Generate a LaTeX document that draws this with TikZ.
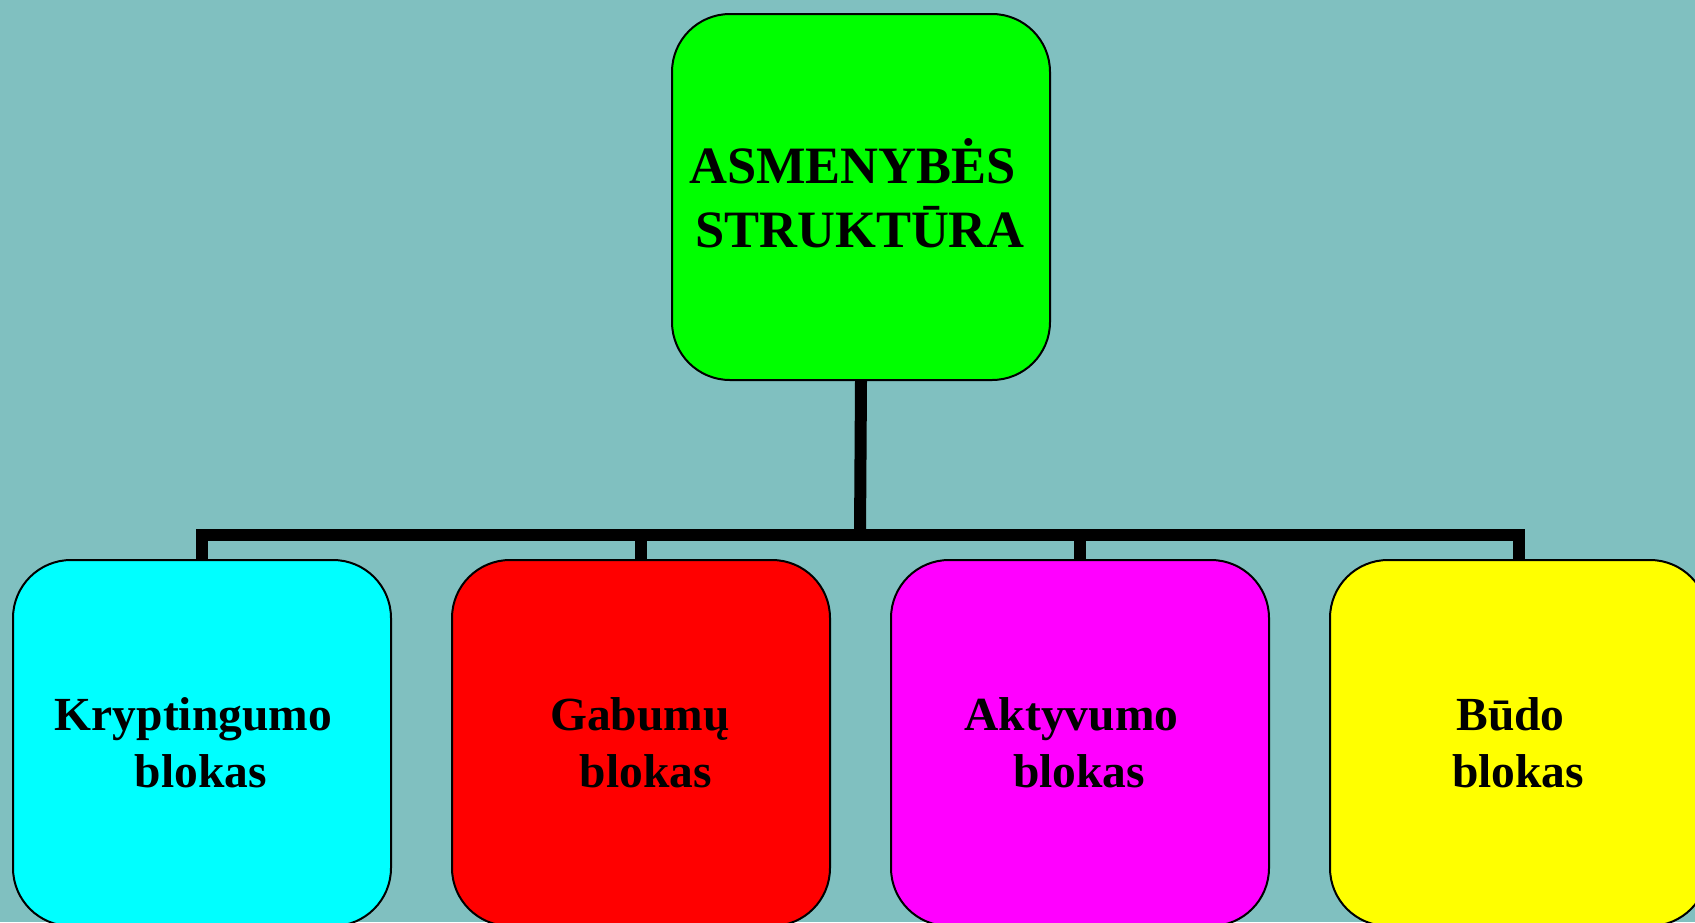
\documentclass[tikz,border=0pt]{standalone}
\usepackage{fontspec}
\setmainfont{Liberation Serif}
\usetikzlibrary{backgrounds}
\definecolor{bgteal}{RGB}{128,192,192}
\definecolor{cgreen}{RGB}{0,255,0}
\definecolor{ccyan}{RGB}{0,255,255}
\definecolor{cred}{RGB}{255,0,0}
\definecolor{cmag}{RGB}{255,0,255}
\definecolor{cyel}{RGB}{255,255,0}
\begin{document}
\begin{tikzpicture}[x=1pt,y=-1pt,
  box/.style={draw=black,line width=2pt,rounded corners=58pt,minimum width=378pt,minimum height=366pt,inner sep=0pt,anchor=north west},
  conn/.style={line width=12pt,draw=black,line join=miter},
  lbl/.style={anchor=base,inner sep=0pt,font=\bfseries\fontsize{47.5}{57}\selectfont},
  toplbl/.style={anchor=base,inner sep=0pt,font=\bfseries\fontsize{52.5}{64}\selectfont}]
\useasboundingbox (0,0) rectangle (1695,922);
\clip (0,0) rectangle (1695,922);
\node[box,fill=cgreen] (top) at (671,13) {};
\node[box,fill=ccyan] (b1) at (12,559) {};
\node[box,fill=cred] (b2) at (451,559) {};
\node[box,fill=cmag] (b3) at (890,559) {};
\node[box,fill=cyel] (b4) at (1329,559) {};
\coordinate (bar) at (860,535);
\begin{pgfonlayer}{background}
\fill[bgteal] (0,0) rectangle (1695,922);
\draw[conn] (top.south) -- (bar);
\draw[conn] (b1.north) |- (bar) -| (b4.north);
\draw[conn] (b2.north) -- (b2.north |- bar);
\draw[conn] (b3.north) -- (b3.north |- bar);
\end{pgfonlayer}
\node[toplbl] (ttop) at (860,183) {\begin{tabular}[t]{@{}c@{}}ASMENYBĖS\kern15pt\\STRUKTŪRA\end{tabular}};
\node[lbl] (t1) at (201,730) {\begin{tabular}[t]{@{}c@{}}Kryptingumo\kern15pt\\blokas\end{tabular}};
\node[lbl] (t2) at (640,730) {\begin{tabular}[t]{@{}c@{}}Gabumų\\\kern12pt blokas\end{tabular}};
\node[lbl] (t3) at (1079,730) {\begin{tabular}[t]{@{}c@{}}Aktyvumo\kern15pt\\blokas\end{tabular}};
\node[lbl] (t4) at (1518,730) {\begin{tabular}[t]{@{}c@{}}Būdo\kern15pt\\blokas\end{tabular}};
\end{tikzpicture}
\end{document}
